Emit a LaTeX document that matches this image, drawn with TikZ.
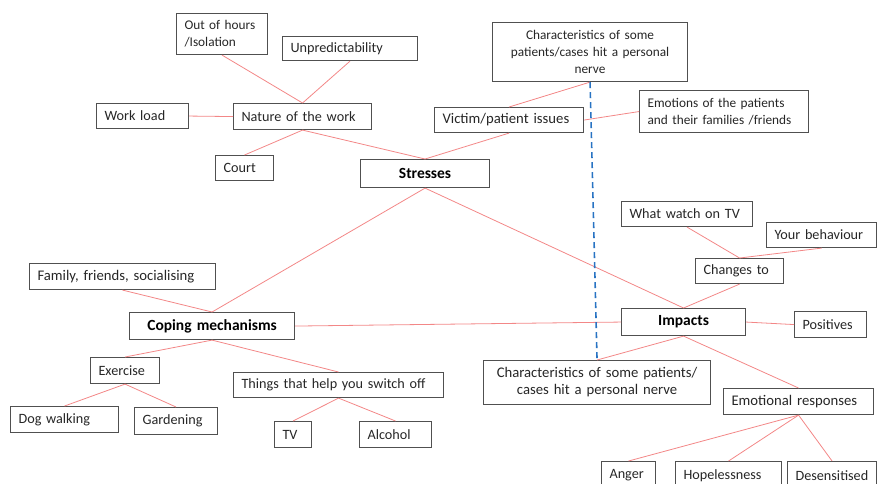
\documentclass[tikz,border=0pt]{standalone}
\usepackage{fontspec}
\setmainfont{Carlito}
\usepackage{tikz}
\usetikzlibrary{shapes,arrows}
\definecolor{boxgray}{RGB}{80,80,80}
\definecolor{textgray}{RGB}{38,38,38}
\definecolor{linkred}{RGB}{243,135,135}
\definecolor{splitblue}{RGB}{40,115,195}
\tikzstyle{box} = [draw=boxgray, line width=1.1pt, text=textgray, font=\fontsize{14.2}{17}\selectfont, inner xsep=8pt, inner ysep=0pt, anchor=north west, align=left]
\tikzstyle{smalltext} = [font=\fontsize{13.3}{17}\selectfont]
\tikzstyle{bigtext} = [font=\fontsize{14.7}{17}\selectfont]
\tikzstyle{title} = [font=\fontsize{15.5}{17}\selectfont\bfseries, text=black, align=center]
\tikzstyle{link} = [draw=linkred, line width=0.8pt]
\tikzstyle{split} = [draw=splitblue, line width=1.6pt, dash pattern=on 6pt off 4pt]

\begin{document}
\begin{tikzpicture}[x=1pt,y=-1pt]
\useasboundingbox (0,0) rectangle (877,483);

% stresses
\node[box, title, text width=113pt, minimum height=28pt] (1) at (360,159) {Stresses};
\node[box, text width=122pt, minimum height=26pt] (2) at (233,103) {Nature of the work};
\node[box, smalltext, text width=75pt, minimum height=41pt] (3) at (176,13) {Out of hours\\/Isolation};
\node[box, text width=119pt, minimum height=24pt] (4) at (282,36) {Unpredictability};
\node[box, text width=76pt, minimum height=25pt] (5) at (96,103) {Work load};
\node[box, text width=42pt, minimum height=25pt] (6) at (215,155) {Court};
\node[box, bigtext, text width=133pt, minimum height=25pt] (7) at (434,107) {Victim/patient issues};
\node[box, smalltext, align=center, text width=179pt, minimum height=59pt] (8) at (492,22) {Characteristics of some\\patients/cases hit a personal\\nerve};
\node[box, smalltext, text width=153pt, minimum height=42pt] (9) at (639,90) {Emotions of the patients\\and their families /friends};

% coping
\node[box, title, text width=149pt, minimum height=27pt] (10) at (129,312) {Coping mechanisms};
\node[box, bigtext, text width=170pt, minimum height=26pt] (11) at (29,263) {Family, friends, socialising};
\node[box, text width=53pt, minimum height=26pt] (12) at (90,357) {Exercise};
\node[box, text width=194pt, minimum height=25pt] (13) at (233,372) {Things that help you switch off};
\node[box, text width=92pt, minimum height=26pt] (14) at (10,406) {Dog walking};
\node[box, text width=67pt, minimum height=27pt] (15) at (134,407) {Gardening};
\node[box, text width=21pt, minimum height=26pt] (16) at (274,421) {TV};
\node[box, text width=56pt, minimum height=26pt] (17) at (359,421) {Alcohol};

% impacts
\node[box, title, text width=108pt, minimum height=27pt] (18) at (621,308) {Impacts};
\node[box, text width=72pt, minimum height=25pt] (19) at (695,258) {Changes to};
\node[box, text width=115pt, minimum height=25pt] (20) at (621,201) {What watch on TV};
\node[box, text width=94pt, minimum height=25pt] (21) at (766,222) {Your behaviour};
\node[box, text width=56pt, minimum height=26pt] (22) at (794,311) {Positives};
\node[box, bigtext, align=center, text width=211pt, minimum height=44pt] (23) at (483,360) {Characteristics of some patients/\\cases hit a personal nerve};
\node[box, bigtext, text width=134pt, minimum height=26pt] (24) at (723,388) {Emotional responses};
\node[box, text width=38pt, minimum height=28pt] (25) at (601,461) {Anger};
\node[box, text width=90pt, minimum height=28pt] (26) at (675,461) {Hopelessness};
\node[box, text width=73pt, minimum height=28pt] (27) at (787,461) {Desensitised};

\path[link]
(2.north) edge (3.south)
(2.north) edge (4.south)
(5.east) edge (2.west)
(2.south) edge (6.north)
(2.south) edge (1.north)
(7.south) edge (1.north)
(7.north) edge (8.south)
(7.east) edge (9.west)
(1.south) edge (10.north)
(1.south) edge (18.north)
(11.south) edge (10.north)
(10.east) edge (18.west)
(10.south) edge (12.north)
(10.south) edge (13.north)
(12.south) edge (14.north)
(12.south) edge (15.north)
(13.south) edge (16.north)
(13.south) edge (17.north)
(18.north) edge (19.south)
(19.north) edge (20.south)
(19.north) edge (21.south)
(18.east) edge (22.west)
(18.south) edge (23.north)
(18.south) edge (24.north)
(24.south) edge (25.north)
(24.south) edge (26.north)
(24.south) edge (27.north);

\draw[split] (8.south) -- (23.north);
\end{tikzpicture}
\end{document}
